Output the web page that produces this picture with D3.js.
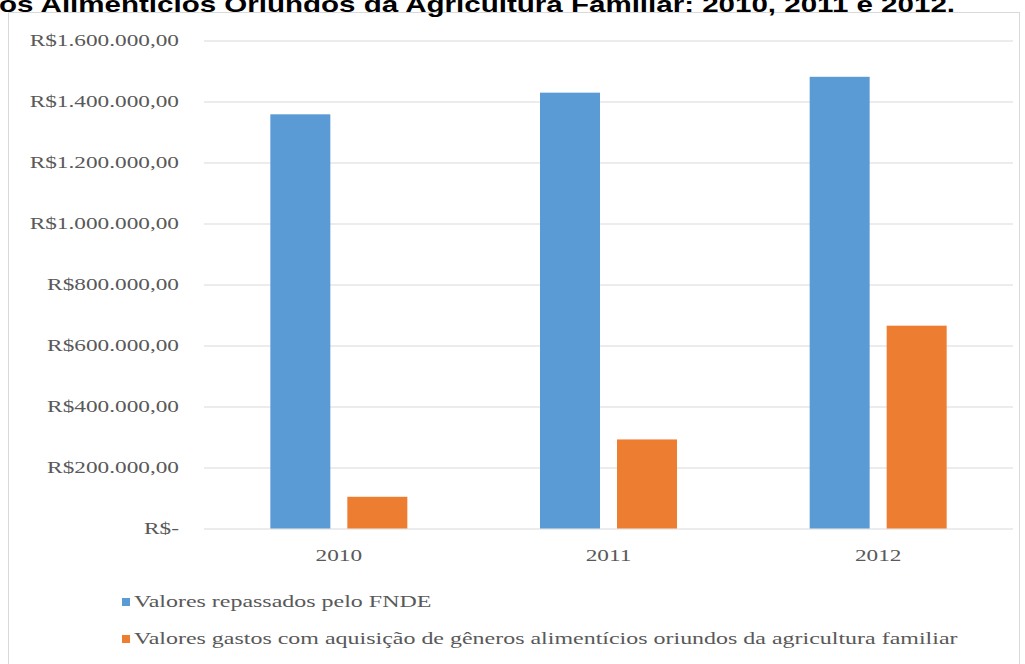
<!DOCTYPE html>
<html>
<head>
<meta charset="utf-8">
<script src="https://cdn.jsdelivr.net/npm/d3@7"></script>
<style>
  html, body { margin: 0; padding: 0; background: #fff; overflow: hidden; }
  svg { display: block; }
</style>
</head>
<body>
<svg id="chart" width="1025" height="664"></svg>
<script>
const categories = ["2010", "2011", "2012"];
const seriesNames = [
  "Valores repassados pelo FNDE",
  "Valores gastos com aquisição de gêneros alimentícios oriundos da agricultura familiar"
];
const fndeValues = [1358000, 1429000, 1481000];
const agriValues = [104000, 292000, 665000];
const yTickValues = [0, 200000, 400000, 600000, 800000, 1000000, 1200000, 1400000, 1600000];
const yTickLabels = ["R$-", "R$200.000,00", "R$400.000,00", "R$600.000,00", "R$800.000,00",
  "R$1.000.000,00", "R$1.200.000,00", "R$1.400.000,00", "R$1.600.000,00"];
const titleText = "os Alimentícios Oriundos da Agricultura Familiar: 2010, 2011 e 2012.";
const colors = ["#5B9BD5", "#ED7D31"];

const data = categories.map((c, i) => ({ cat: c, values: [fndeValues[i], agriValues[i]] }));

const svg = d3.select("#chart");
const SX = 1.37;
const SXL = 1.41;
const serif = "'Liberation Serif', 'Times New Roman', serif";
const textColor = "#595959";

// border
svg.append("rect").attr("x", 8.5).attr("y", 12.5).attr("width", 1011).attr("height", 700)
  .attr("fill", "none").attr("stroke", "#d9d9d9").attr("stroke-width", 1);

// title (cut off at top, as in the source)
svg.append("text").attr("x", -1).attr("y", 12)
  .attr("font-family", "'Liberation Sans', Arial, sans-serif").attr("font-weight", "bold")
  .attr("font-size", 22).attr("fill", "#000")
  .attr("textLength", 956).attr("lengthAdjust", "spacingAndGlyphs")
  .text(titleText);

const plotLeft = 204, plotRight = 1013;
const y = d3.scaleLinear().domain([0, 1600000]).range([528.5, 40.5]);
const x0 = d3.scaleBand().domain(categories).range([plotLeft, plotRight]).padding(0);
const groupW = 137;
const x1 = d3.scaleBand().domain([0, 1])
  .range([(x0.bandwidth() - groupW) / 2, (x0.bandwidth() + groupW) / 2])
  .paddingInner(17 / 77).paddingOuter(0);

// gridlines
const yAxis = d3.axisLeft(y).tickValues(yTickValues).tickSize(-(plotRight - plotLeft)).tickFormat("");
const gGrid = svg.append("g").attr("transform", `translate(${plotLeft},0)`).call(yAxis);
gGrid.select(".domain").remove();
gGrid.selectAll(".tick line").attr("stroke", "#d9d9d9").attr("stroke-width", 1.2);

// y labels
svg.append("g").selectAll("text").data(yTickValues).join("text")
  .attr("transform", (d) => `translate(179,${y(d)}) scale(${SX},1)`)
  .attr("dy", "0.34em").attr("text-anchor", "end")
  .attr("font-family", serif).attr("font-size", 17).attr("fill", textColor)
  .text((d, i) => yTickLabels[i]);

// bars
const groups = svg.append("g").selectAll("g").data(data).join("g")
  .attr("transform", (d) => `translate(${x0(d.cat)},0)`);
groups.selectAll("rect").data((d) => d.values.map((v, i) => ({ v, i }))).join("rect")
  .attr("x", (d) => x1(d.i)).attr("width", x1.bandwidth())
  .attr("y", (d) => y(d.v)).attr("height", (d) => y(0) - y(d.v))
  .attr("fill", (d) => colors[d.i]);

// x labels
svg.append("g").selectAll("text").data(categories).join("text")
  .attr("transform", (d) => `translate(${x0(d) + x0.bandwidth() / 2},561) scale(${SX},1)`)
  .attr("text-anchor", "middle")
  .attr("font-family", serif).attr("font-size", 17).attr("fill", textColor)
  .text((d) => d);

// legend
const legY = [607, 644];
const leg = svg.append("g").selectAll("g").data(seriesNames).join("g");
leg.append("rect").attr("x", 122).attr("y", (d, i) => legY[i] - 9).attr("width", 8).attr("height", 8)
  .attr("fill", (d, i) => colors[i]);
leg.append("text")
  .attr("transform", (d, i) => `translate(134,${legY[i]}) scale(${SXL},1)`)
  .attr("font-family", serif).attr("font-size", 17).attr("fill", textColor)
  .text((d) => d);
</script>
</body>
</html>
